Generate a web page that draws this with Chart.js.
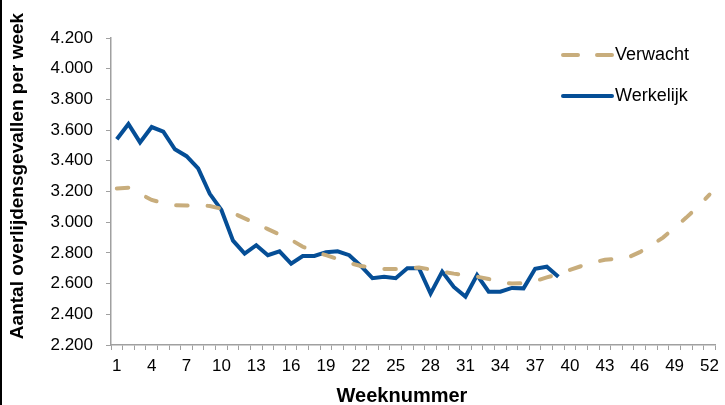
<!DOCTYPE html>
<html>
<head>
<meta charset="utf-8">
<script src="https://cdn.jsdelivr.net/npm/chart.js@4.4.0/dist/chart.umd.min.js"></script>
<style>
    body { margin: 0; background: #fff; }
    #wrap { position: relative; width: 725px; height: 405px; }
    #edge { position: absolute; left: 0; top: 0; width: 2px; height: 405px; background: #000; }
</style>
</head>
<body>
<div id="wrap">
    <canvas id="deathsChart" width="725" height="405"></canvas>
    <div id="edge"></div>
</div>
<script>
const weeks = Array.from({ length: 52 }, (_, i) => String(i + 1));

const expected = [3220, 3225, 3185, 3145, 3125, 3110, 3108, 3112, 3105, 3088,
    3060, 3025, 2990, 2955, 2920, 2885, 2840, 2810, 2785, 2760,
    2735, 2715, 2705, 2695, 2695, 2700, 2705, 2692, 2678, 2665,
    2655, 2645, 2630, 2610, 2600, 2603, 2617, 2640, 2662, 2690,
    2715, 2738, 2755, 2762, 2770, 2805, 2850, 2900, 2965, 3030,
    3100, 3180];

const actual = [3540, 3640, 3520, 3620, 3590, 3475, 3430, 3350, 3185, 3080,
    2880, 2795, 2850, 2785, 2810, 2730, 2780, 2780, 2805, 2810,
    2785, 2715, 2635, 2645, 2635, 2700, 2700, 2535, 2678, 2578,
    2515, 2655, 2547, 2547, 2572, 2569, 2697, 2710, 2645];

const seriesNames = ['Verwacht', 'Werkelijk'];
const xTitle = 'Weeknummer';
const yTitle = 'Aantal overlijdensgevallen per week';

const TAN = '#C8AD7C';
const BLUE = '#054E96';
const AXIS = '#A0A0A0';
const FONT = '"Liberation Sans", Arial, sans-serif';

// Legend and axis titles placed like the original (off-centre)
const extras = {
    id: 'extras',
    afterDraw(chart) {
        const ctx = chart.ctx;
        const x0 = 563, x1 = 612;
        ctx.save();
        ctx.lineCap = 'round';
        ctx.lineWidth = 4;
        ctx.strokeStyle = TAN;
        ctx.beginPath();
        ctx.moveTo(x0, 55); ctx.lineTo(x0 + 15, 55);
        ctx.moveTo(x1 - 15, 55); ctx.lineTo(x1, 55);
        ctx.stroke();
        ctx.strokeStyle = BLUE;
        ctx.lineWidth = 4;
        ctx.beginPath();
        ctx.moveTo(x0, 96); ctx.lineTo(x1, 96);
        ctx.stroke();
        ctx.fillStyle = '#000';
        ctx.font = '18px ' + FONT;
        ctx.textBaseline = 'middle';
        ctx.fillText(seriesNames[0], 615, 55);
        ctx.fillText(seriesNames[1], 615, 96);

        ctx.textAlign = 'center';
        ctx.font = 'bold 20px ' + FONT;
        ctx.fillText(xTitle, 402, 396);
        ctx.translate(18, 176);
        ctx.rotate(-Math.PI / 2);
        ctx.font = 'bold 19px ' + FONT;
        ctx.fillText(yTitle, 0, 0);
        ctx.restore();
    }
};

new Chart(document.getElementById('deathsChart'), {
    type: 'line',
    data: {
        labels: weeks,
        datasets: [
            {
                label: seriesNames[0],
                data: expected,
                borderColor: TAN,
                borderWidth: 4,
                borderDash: [11.5, 20],
                borderCapStyle: 'round',
                pointRadius: 0,
                tension: 0
            },
            {
                label: seriesNames[1],
                data: actual,
                borderColor: BLUE,
                borderWidth: 4,
                borderJoinStyle: 'miter',
                pointRadius: 0,
                tension: 0
            }
        ]
    },
    options: {
        responsive: false,
        animation: false,
        layout: { padding: { top: 38, right: 7, left: 0, bottom: 0 } },
        plugins: {
            legend: { display: false },
            tooltip: { enabled: false }
        },
        scales: {
            x: {
                offset: true,
                afterFit: s => { s.height = 60; },
                grid: {
                    offset: true,
                    drawOnChartArea: false,
                    color: AXIS,
                    tickLength: 5
                },
                border: { color: AXIS, width: 1.5 },
                ticks: {
                    autoSkip: false,
                    maxRotation: 0,
                    padding: 6,
                    color: '#000',
                    font: { family: FONT, size: 17 },
                    callback: function (v, i) { return i % 3 === 0 ? this.getLabelForValue(v) : ''; }
                }
            },
            y: {
                min: 2200,
                max: 4200,
                afterFit: s => { s.width = 111; },
                grid: {
                    drawOnChartArea: false,
                    color: AXIS,
                    tickLength: 5
                },
                border: { color: AXIS, width: 1.5 },
                ticks: {
                    stepSize: 200,
                    padding: 13,
                    color: '#000',
                    font: { family: FONT, size: 17 },
                    callback: v => {
                        const s = String(v);
                        return s.slice(0, s.length - 3) + '.' + s.slice(-3);
                    }
                }
            }
        }
    },
    plugins: [extras]
});
</script>
</body>
</html>
